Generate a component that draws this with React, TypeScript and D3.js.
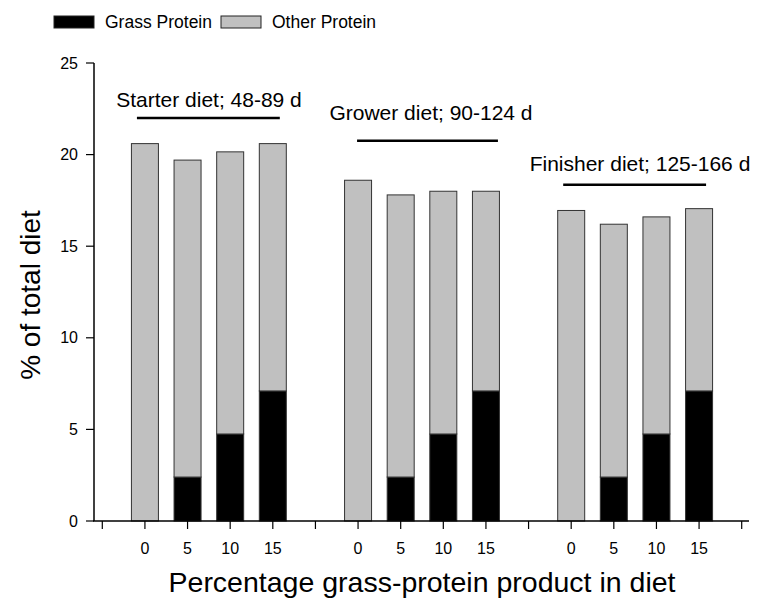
import React from 'react';
import * as d3 from 'd3';

// diet phases and inclusion levels
const phases = ['Starter diet; 48-89 d', 'Grower diet; 90-124 d', 'Finisher diet; 125-166 d'];
const levels = ['0', '5', '10', '15'];

// % of total diet
const grassProtein = [
  [0, 2.4, 4.75, 7.1],
  [0, 2.4, 4.75, 7.1],
  [0, 2.4, 4.75, 7.1],
];
const totalProtein = [
  [20.6, 19.7, 20.15, 20.6],
  [18.6, 17.8, 18.0, 18.0],
  [16.95, 16.2, 16.6, 17.05],
];

const yTicks = [0, 5, 10, 15, 20, 25];
const keys = ['grass', 'other'];
const legendLabels = ['Grass Protein', 'Other Protein'];
const fills = ['#000000', '#c0c0c0'];

// bracket heights (in y units) over each phase
const bracketY = [22.0, 20.75, 18.35];
const labelY = [22.6, 21.9, 19.1];

const W = 765;
const H = 606;
const FONT = 'Arial, "Liberation Sans", Helvetica, sans-serif';

export default function App() {
  const x = d3.scaleLinear().domain([0, 15]).range([102.3, 741.7]);
  const y = d3.scaleLinear().domain([0, 25]).range([521, 63]);
  const barW = 27;

  const rows = phases.flatMap((p, g) =>
    levels.map((lv, i) => ({
      slot: g * 5 + i + 1,
      level: lv,
      grass: grassProtein[g][i],
      other: totalProtein[g][i] - grassProtein[g][i],
    }))
  );
  const stacked = d3.stack<any>().keys(keys)(rows);

  const slots = d3.range(0, 16);

  return (
    <svg width={W} height={H} style={{ position: 'absolute', left: 0, top: 0, background: '#fff' }} fontFamily={FONT}>
      {/* legend */}
      {legendLabels.map((lab, i) => {
        const lx = i === 0 ? 54 : 221;
        return (
          <g key={lab}>
            <rect x={lx} y={16} width={40} height={12} fill={fills[i]} stroke="#222" strokeWidth={1} />
            <text x={lx + 51} y={27.5} fontSize={17.5} fill="#000">{lab}</text>
          </g>
        );
      })}

      {/* bars */}
      {stacked.map((layer, k) => (
        <g key={keys[k]}>
          {layer.map((d, j) => {
            const h = y(d[0]) - y(d[1]);
            if (h <= 0) return null;
            return (
              <rect
                key={j}
                x={x(rows[j].slot) - barW / 2}
                y={y(d[1])}
                width={barW}
                height={h}
                fill={fills[k]}
                stroke="#333"
                strokeWidth={1}
              />
            );
          })}
        </g>
      ))}

      {/* y axis */}
      <line x1={94} x2={94} y1={y(25)} y2={y(0)} stroke="#000" strokeWidth={1.5} />
      {yTicks.map((t) => (
        <g key={t}>
          <line x1={86} x2={94} y1={y(t)} y2={y(t)} stroke="#000" strokeWidth={1.2} />
          <text x={78} y={y(t) + 5.5} textAnchor="end" fontSize={16} fill="#000">{t}</text>
        </g>
      ))}

      {/* x axis */}
      <line x1={93} x2={749} y1={y(0)} y2={y(0)} stroke="#000" strokeWidth={1.5} />
      {slots.map((s) => (
        <line key={s} x1={x(s)} x2={x(s)} y1={y(0)} y2={y(0) + 8} stroke="#000" strokeWidth={1.2} />
      ))}
      {rows.map((r) => (
        <text key={r.slot} x={x(r.slot)} y={554} textAnchor="middle" fontSize={16} fill="#000">{r.level}</text>
      ))}

      {/* phase brackets */}
      {phases.map((p, g) => {
        const x0 = x(g * 5 + 1);
        const x1 = x(g * 5 + 4);
        const offs = [[-8, 7], [-1, 12], [-8, 7]][g];
        const tx = [209, 431, 640][g];
        return (
          <g key={p}>
            <line x1={x0 + offs[0]} x2={x1 + offs[1]} y1={y(bracketY[g])} y2={y(bracketY[g])} stroke="#000" strokeWidth={2.5} />
            <text x={tx} y={y(labelY[g])} textAnchor="middle" fontSize={21} fill="#000">{p}</text>
          </g>
        );
      })}

      {/* axis titles */}
      <text x={422} y={592} textAnchor="middle" fontSize={28.5} fill="#000">Percentage grass-protein product in diet</text>
      <text transform="translate(40,295) rotate(-90)" textAnchor="middle" fontSize={28} fill="#000">% of total diet</text>
    </svg>
  );
}
